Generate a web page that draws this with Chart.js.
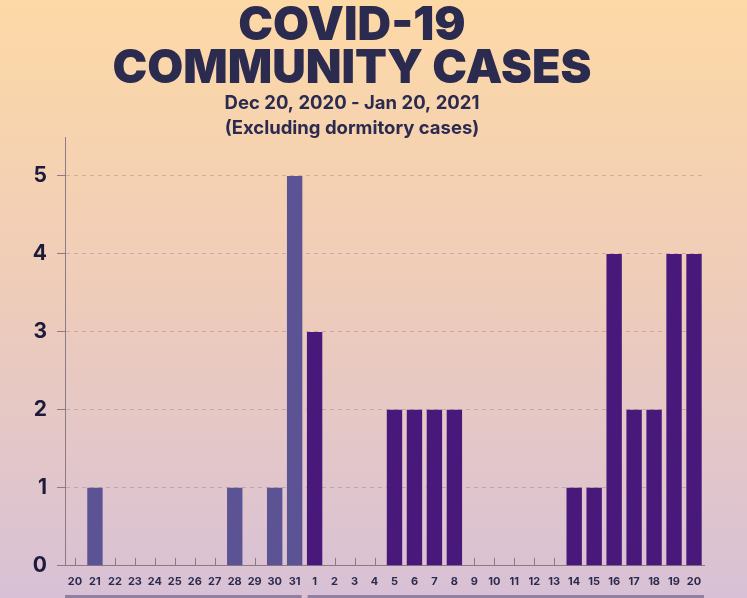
<!DOCTYPE html>
<html>
<head>
<meta charset="utf-8">
<script src="https://cdn.jsdelivr.net/npm/chart.js@4"></script>
<style>
  html, body { margin: 0; padding: 0; }
  body {
    width: 747px; height: 598px; overflow: hidden;
    background: linear-gradient(180deg, #fdd9a6 0%, #f0cdb8 45%, #d8c1d6 100%);
  }
  #wrap { position: relative; width: 747px; height: 598px; }
</style>
</head>
<body>
<div id="wrap"><canvas id="chart"></canvas></div>
<script>
"use strict";

// Data
var dayLabels = ['20', '21', '22', '23', '24', '25', '26', '27', '28', '29', '30', '31',
    '1', '2', '3', '4', '5', '6', '7', '8', '9', '10', '11', '12', '13', '14', '15', '16', '17', '18', '19', '20'];
var monthOfDay = ['Dec', 'Dec', 'Dec', 'Dec', 'Dec', 'Dec', 'Dec', 'Dec', 'Dec', 'Dec', 'Dec', 'Dec',
    'Jan', 'Jan', 'Jan', 'Jan', 'Jan', 'Jan', 'Jan', 'Jan', 'Jan', 'Jan', 'Jan', 'Jan', 'Jan', 'Jan', 'Jan', 'Jan', 'Jan', 'Jan', 'Jan', 'Jan'];
var cases = [0, 1, 0, 0, 0, 0, 0, 0, 1, 0, 1, 5,
    3, 0, 0, 0, 2, 2, 2, 2, 0, 0, 0, 0, 0, 1, 1, 4, 2, 2, 4, 4];
var yTicks = [0, 1, 2, 3, 4, 5];

// Colors
var decColor = '#5b5394';
var janColor = '#48187b';
var axisColor = '#8c7b82';
var textColor = '#2b2a4f';

// upward tick marks on the x axis + month bars under the labels
var xTickPlugin = {
    id: 'xTicks',
    afterDraw: function (chart) {
        var ctx = chart.ctx;
        var x = chart.scales.x;
        var bottom = chart.chartArea.bottom;
        ctx.save();
        ctx.strokeStyle = axisColor;
        ctx.lineWidth = 1;
        for (var i = 0; i < dayLabels.length; i++) {
            if (cases[i] > 0) continue;
            var px = Math.round(x.getPixelForValue(i)) + 0.5;
            ctx.beginPath();
            ctx.moveTo(px, bottom);
            ctx.lineTo(px, bottom - 8);
            ctx.stroke();
        }
        // month bars
        var half = (x.getPixelForValue(1) - x.getPixelForValue(0)) / 2;
        var firstJan = monthOfDay.indexOf('Jan');
        ctx.fillStyle = '#8e7fa3';
        var decL = x.left;
        var decR = x.getPixelForValue(firstJan - 1) + half - 3;
        var janL = x.getPixelForValue(firstJan) - half + 3;
        var janR = x.getPixelForValue(dayLabels.length - 1) + half;
        ctx.fillRect(decL, chart.height - 3, decR - decL, 3);
        ctx.fillRect(janL, chart.height - 3, janR - janL, 3);
        ctx.restore();
    }
};

var ctx = document.getElementById('chart');

var chart = new Chart(ctx, {
    type: 'bar',
    data: {
        labels: dayLabels,
        datasets: [{
            label: 'Community cases',
            data: cases,
            backgroundColor: monthOfDay.map(function (m) { return m === 'Dec' ? decColor : janColor; }),
            barPercentage: 0.77,
            categoryPercentage: 1.0
        }]
    },
    options: {
        responsive: true,
        maintainAspectRatio: false,
        animation: false,
        layout: {
            padding: { left: 0, right: 43, top: 0, bottom: 9 }
        },
        plugins: {
            legend: { display: false },
            tooltip: { enabled: false },
            title: {
                display: true,
                text: ['COVID-19', 'COMMUNITY CASES'],
                color: textColor,
                font: { family: 'Inter', size: 46.5, weight: '900', lineHeight: '43.5px' },
                padding: { top: 4, bottom: 0 }
            },
            subtitle: {
                display: true,
                text: ['Dec 20, 2020 - Jan 20, 2021', '(Excluding dormitory cases)'],
                color: textColor,
                font: { family: 'Inter', size: 18.5, weight: 'bold', lineHeight: '25px' },
                padding: { top: 0, bottom: -4 }
            }
        },
        scales: {
            x: {
                grid: { display: false },
                border: { display: true, color: axisColor, width: 1 },
                ticks: {
                    color: textColor,
                    font: { family: 'Inter', size: 11, weight: 'bold' },
                    padding: 1,
                    autoSkip: false,
                    maxRotation: 0
                }
            },
            y: {
                min: 0,
                max: 5.5,
                afterBuildTicks: function (scale) {
                    scale.ticks = yTicks.map(function (v) { return { value: v }; });
                },
                afterFit: function (scale) {
                    scale.width = 65;
                },
                grid: {
                    color: 'rgba(150, 120, 120, 0.4)',
                    tickColor: axisColor,
                    tickBorderDash: [],
                    tickLength: 8
                },
                border: { display: true, color: axisColor, width: 1, dash: [4, 4] },
                ticks: {
                    color: '#1c1b3a',
                    font: { family: 'Inter', size: 21, weight: 'bold' },
                    padding: 10
                }
            }
        }
    },
    plugins: [xTickPlugin]
});
</script>
</body>
</html>
